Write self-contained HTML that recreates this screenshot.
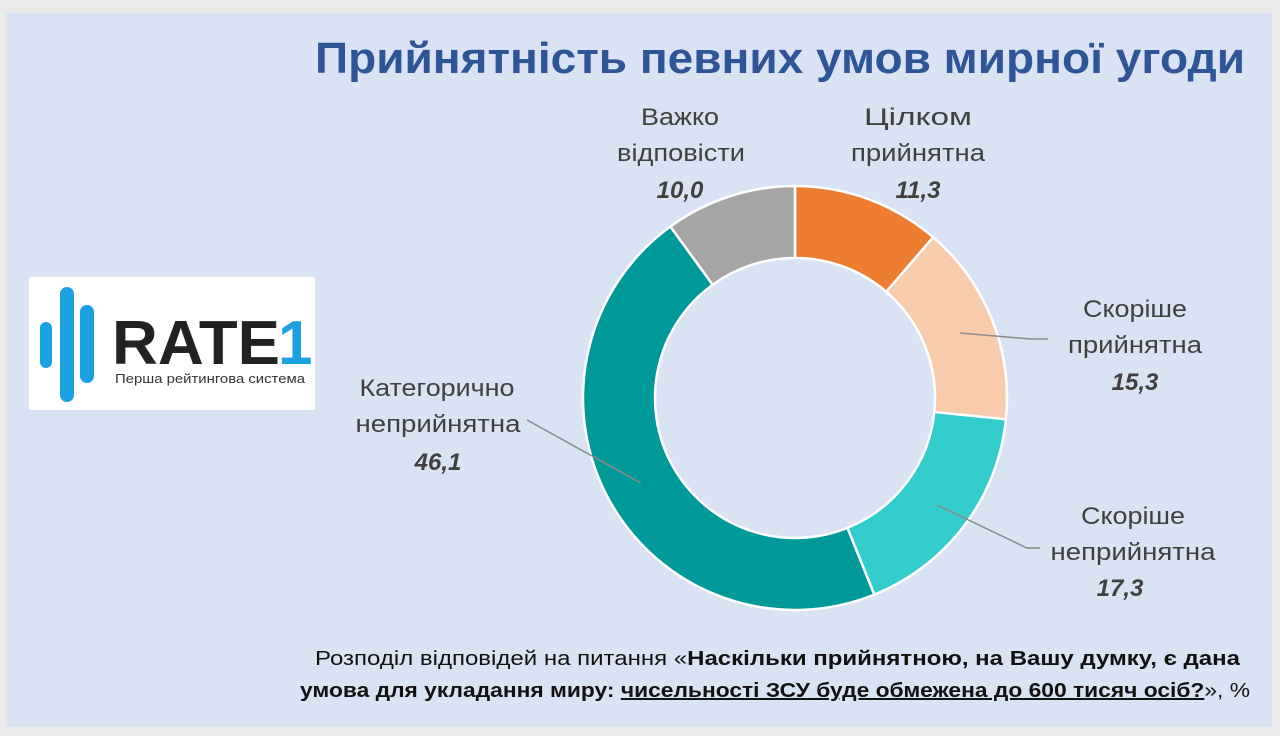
<!DOCTYPE html>
<html><head><meta charset="utf-8"><style>
body{margin:0;background:#eaeaea;}
svg{display:block}
text{font-family:"Liberation Sans",sans-serif;}
</style></head><body>
<svg width="1280" height="736" viewBox="0 0 1280 736">
<rect x="0" y="0" width="1280" height="736" fill="#eaeaea"/>
<rect x="6" y="13" width="1266" height="714" fill="#dae3f3"/>
<text x="315" y="73" font-size="44" font-weight="bold" fill="#2f5597" textLength="930" lengthAdjust="spacingAndGlyphs">Прийнятність певних умов мирної угоди</text>
<rect x="29" y="277" width="286" height="133" fill="#fff"/>
<rect x="40" y="322" width="12" height="46" rx="6" fill="#1ba1e2"/>
<rect x="60" y="287" width="14" height="115" rx="7" fill="#1ba1e2"/>
<rect x="80" y="305" width="14" height="78" rx="7" fill="#1ba1e2"/>
<text x="112" y="364" font-size="62" font-weight="bold" fill="#222" textLength="168" lengthAdjust="spacingAndGlyphs">RATE</text>
<text x="278" y="364" font-size="62" font-weight="bold" fill="#1ba1e2">1</text>
<text x="115" y="383" font-size="13" fill="#333" textLength="190" lengthAdjust="spacingAndGlyphs">Перша рейтингова система</text>
<g id="donut"></g>
<g stroke="#8a8a8a" stroke-width="1.5" fill="none">
<polyline points="960,333 1030,339 1048,339"/>
<polyline points="641,483 527,420"/>
<polyline points="937,505 1027,548 1040,548"/>
</g>
<g font-size="24" fill="#404040" text-anchor="middle">
<text x="680" y="125" textLength="78" lengthAdjust="spacingAndGlyphs">Важко</text>
<text x="681" y="161" textLength="128" lengthAdjust="spacingAndGlyphs">відповісти</text>
<text x="680" y="198" font-weight="bold" font-style="italic">10,0</text>
<text x="918" y="125" textLength="108" lengthAdjust="spacingAndGlyphs">Цілком</text>
<text x="918" y="161" textLength="134" lengthAdjust="spacingAndGlyphs">прийнятна</text>
<text x="918" y="198" font-weight="bold" font-style="italic">11,3</text>
<text x="1135" y="317" textLength="104" lengthAdjust="spacingAndGlyphs">Скоріше</text>
<text x="1135" y="353" textLength="134" lengthAdjust="spacingAndGlyphs">прийнятна</text>
<text x="1135" y="390" font-weight="bold" font-style="italic">15,3</text>
<text x="437" y="396" textLength="155" lengthAdjust="spacingAndGlyphs">Категорично</text>
<text x="438" y="432" textLength="165" lengthAdjust="spacingAndGlyphs">неприйнятна</text>
<text x="438" y="470" font-weight="bold" font-style="italic">46,1</text>
<text x="1133" y="524" textLength="104" lengthAdjust="spacingAndGlyphs">Скоріше</text>
<text x="1133" y="560" textLength="165" lengthAdjust="spacingAndGlyphs">неприйнятна</text>
<text x="1120" y="596" font-weight="bold" font-style="italic">17,3</text>
</g>
<g font-size="20" fill="#111">
<text x="315" y="665" textLength="925" lengthAdjust="spacingAndGlyphs">Розподіл відповідей на питання «<tspan font-weight="bold">Наскільки прийнятною, на Вашу думку, є дана</tspan></text>
<text x="300" y="697" textLength="950" lengthAdjust="spacingAndGlyphs"><tspan font-weight="bold">умова для укладання миру: </tspan><tspan font-weight="bold" text-decoration="underline">чисельності ЗСУ буде обмежена до 600 тисяч осіб?</tspan>», %</text>
</g>
</svg>
<script>
(function(){
var cx=795,cy=398,R=212,r=140;
var d=[[11.3,"#ed7d31"],[15.3,"#f8cbad"],[17.3,"#33cccc"],[46.1,"#009999"],[10.0,"#a5a5a5"]];
var a=0,g=document.getElementById("donut"),s="";
function p(rad,ang){return [cx+rad*Math.sin(ang),cy-rad*Math.cos(ang)];}
d.forEach(function(x){
var a0=a/100*2*Math.PI;a+=x[0];var a1=a/100*2*Math.PI;var l=(a1-a0)>Math.PI?1:0;
var A=p(R,a0),B=p(R,a1),C=p(r,a1),D=p(r,a0);
s+='<path d="M'+A+' A'+R+','+R+' 0 '+l+' 1 '+B+' L'+C+' A'+r+','+r+' 0 '+l+' 0 '+D+' Z" fill="'+x[1]+'" stroke="#fff" stroke-width="2.5"/>';
});
g.innerHTML=s;
})();
</script>
</body></html>
